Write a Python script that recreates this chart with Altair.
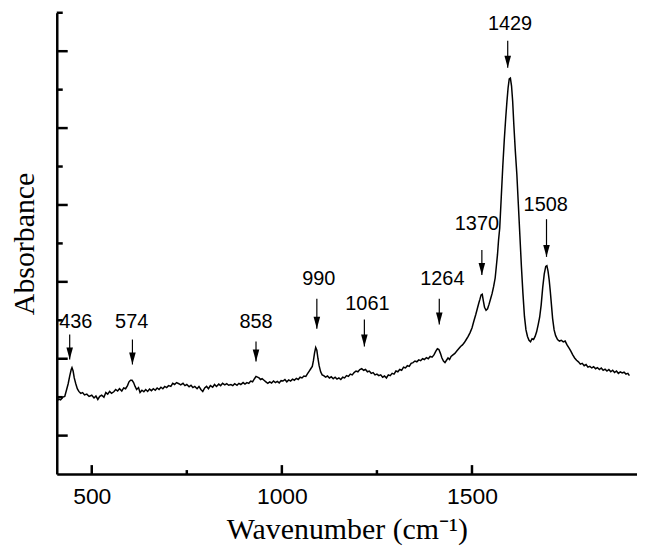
import altair as alt
import pandas as pd

wavenumber = [
    408, 413, 418, 424, 429, 434, 438, 442, 446, 448,
    451, 454, 458, 462, 466, 471, 476, 481, 487, 493,
    500, 506, 511, 516, 521, 526, 532, 537, 542, 547,
    552, 558, 563, 568, 573, 579, 584, 589, 594, 598,
    602, 606, 610, 614, 618, 623, 627, 632, 637, 642,
    647, 652, 657, 662, 667, 672, 677, 682, 687, 692,
    697, 702, 708, 713, 718, 723, 729, 734, 740, 745,
    750, 756, 761, 766, 771, 777, 782, 787, 792, 797,
    802, 807, 812, 818, 823, 828, 834, 839, 844, 850,
    855, 860, 866, 871, 876, 882, 887, 892, 898, 903,
    908, 913, 918, 923, 928, 932, 936, 940, 944, 948,
    953, 958, 963, 968, 973, 978, 983, 988, 993, 998,
    1003, 1008, 1013, 1018, 1023, 1028, 1033, 1038, 1043, 1048,
    1053, 1058, 1063, 1068, 1072, 1076, 1080, 1083, 1086, 1089,
    1092, 1095, 1098, 1102, 1106, 1110, 1115, 1120, 1125, 1130,
    1135, 1140, 1145, 1150, 1155, 1160, 1165, 1170, 1175, 1180,
    1185, 1190, 1195, 1200, 1205, 1210, 1215, 1220, 1225, 1230,
    1235, 1240, 1245, 1250, 1255, 1260, 1265, 1270, 1275, 1280,
    1285, 1290, 1295, 1300, 1305, 1310, 1315, 1320, 1325, 1330,
    1335, 1340, 1345, 1350, 1355, 1360, 1365, 1370, 1375, 1380,
    1385, 1390, 1395, 1400, 1405, 1409, 1413, 1417, 1421, 1425,
    1429, 1433, 1437, 1441, 1445, 1450, 1455, 1460, 1465, 1470,
    1475, 1480, 1485, 1490, 1495, 1500, 1505, 1510, 1514, 1518,
    1521, 1524, 1527, 1530, 1533, 1537, 1541, 1545, 1549, 1553,
    1557, 1561, 1564, 1567, 1570, 1573, 1577, 1581, 1585, 1589,
    1592, 1595, 1598, 1601, 1604, 1607, 1610, 1614, 1618, 1622,
    1626, 1630, 1634, 1638, 1642, 1646, 1650, 1654, 1658, 1662,
    1666, 1670, 1674, 1678, 1682, 1686, 1690, 1694, 1697, 1700,
    1703, 1706, 1709, 1712, 1716, 1720, 1725, 1730, 1735, 1740,
    1745, 1750, 1755, 1760, 1765, 1770, 1775, 1780, 1785, 1790,
    1795, 1800, 1805, 1810, 1815, 1820, 1825, 1830, 1835, 1840,
    1845, 1850, 1855, 1860, 1865, 1870, 1875, 1880, 1885, 1890,
    1895, 1900, 1905, 1910, 1914,
]

absorbance = [
    1.89, 1.95, 1.93, 2.00, 2.02, 2.20, 2.35, 2.55, 2.72, 2.77,
    2.68, 2.50, 2.35, 2.22, 2.15, 2.10, 2.12, 2.06, 2.08, 2.02,
    2.05, 1.98, 2.03, 1.94, 2.02, 2.05, 2.00, 2.12, 2.08, 2.15,
    2.10, 2.14, 2.20, 2.16, 2.22, 2.16, 2.24, 2.22, 2.30, 2.40,
    2.44, 2.44, 2.38, 2.28, 2.20, 2.25, 2.12, 2.18, 2.14, 2.20,
    2.15, 2.21, 2.17, 2.22, 2.18, 2.24, 2.20, 2.26, 2.22, 2.28,
    2.25, 2.30, 2.28, 2.36, 2.33, 2.38, 2.35, 2.32, 2.36, 2.30,
    2.33, 2.27, 2.31, 2.25, 2.28, 2.22, 2.28, 2.20, 2.15, 2.24,
    2.28, 2.22, 2.30, 2.26, 2.33, 2.28, 2.34, 2.30, 2.36, 2.32,
    2.35, 2.31, 2.33, 2.30, 2.35, 2.31, 2.36, 2.33, 2.38, 2.34,
    2.38, 2.36, 2.42, 2.40, 2.48, 2.54, 2.52, 2.50, 2.46, 2.48,
    2.44, 2.40, 2.36, 2.40, 2.37, 2.42, 2.38, 2.41, 2.37, 2.43,
    2.42, 2.46, 2.40, 2.45, 2.42, 2.47, 2.44, 2.49, 2.46, 2.52,
    2.50, 2.55, 2.54, 2.62, 2.68, 2.74, 2.80, 2.95, 3.15, 3.29,
    3.22, 3.00, 2.82, 2.66, 2.58, 2.56, 2.52, 2.55, 2.50, 2.53,
    2.48, 2.52, 2.47, 2.50, 2.46, 2.52, 2.50, 2.56, 2.54, 2.60,
    2.58, 2.64, 2.68, 2.66, 2.72, 2.74, 2.70, 2.72, 2.66, 2.68,
    2.62, 2.64, 2.58, 2.60, 2.56, 2.58, 2.52, 2.55, 2.50, 2.58,
    2.56, 2.62, 2.60, 2.68, 2.66, 2.72, 2.70, 2.78, 2.76, 2.82,
    2.80, 2.88, 2.90, 2.94, 2.92, 2.97, 2.95, 3.00, 2.98, 3.03,
    3.00, 3.06, 3.04, 3.10, 3.20, 3.26, 3.24, 3.14, 3.02, 2.94,
    2.90, 2.96, 3.02, 2.98, 3.06, 3.10, 3.14, 3.20, 3.26, 3.32,
    3.36, 3.42, 3.50, 3.58, 3.68, 3.80, 3.98, 4.15, 4.30, 4.45,
    4.55, 4.66, 4.68, 4.50, 4.34, 4.26, 4.30, 4.42, 4.56, 4.70,
    4.88, 5.10, 5.40, 5.70, 6.10, 6.40, 7.20, 8.00, 8.70, 9.30,
    9.70, 10.05, 10.28, 10.30, 10.10, 9.70, 9.10, 8.40, 7.80, 7.00,
    6.20, 5.40, 4.70, 4.10, 3.75, 3.58, 3.48, 3.44, 3.52, 3.50,
    3.58, 3.70, 3.88, 4.08, 4.40, 4.85, 5.20, 5.40, 5.42, 5.28,
    5.05, 4.75, 4.40, 4.05, 3.75, 3.60, 3.50, 3.46, 3.48, 3.44,
    3.46, 3.36, 3.28, 3.20, 3.10, 3.02, 2.96, 2.92, 2.86, 2.88,
    2.82, 2.85, 2.78, 2.80, 2.76, 2.79, 2.74, 2.77, 2.72, 2.76,
    2.70, 2.73, 2.68, 2.72, 2.66, 2.70, 2.64, 2.68, 2.62, 2.66,
    2.63, 2.65, 2.60, 2.62, 2.56,
]

peak_labels = ["436", "574", "858", "990", "1061", "1264", "1370", "1429", "1508"]
arrow_x = [442, 607, 932, 1092, 1217, 1414, 1526, 1594, 1696]
arrow_tail = [3.63, 3.50, 3.45, 4.56, 4.02, 4.56, 5.83, 11.27, 6.63]
arrow_tip = [2.98, 2.85, 2.93, 3.78, 3.32, 3.89, 5.18, 10.57, 5.65]
label_x = [458, 605, 932, 1097, 1225, 1422, 1513, 1600, 1694]
label_y = [3.96, 3.96, 3.96, 5.08, 4.43, 5.08, 6.50, 11.71, 6.99]

x_major = [500, 1000, 1500]
x_minor = [750, 1250]
y_major = [1, 3, 5, 7, 9, 11]
y_minor = [2, 4, 6, 8, 10, 12]

assert len(wavenumber) == len(absorbance)

W = 583
H = 463.5
X_DOMAIN = [408, 1934]
Y_DOMAIN = [0, 12]

spec_df = pd.DataFrame({"wn": wavenumber, "ab": absorbance})
ann_df = pd.DataFrame({
    "label": peak_labels, "ax": arrow_x, "tail": arrow_tail, "tip": arrow_tip,
    "lx": label_x, "ly": label_y,
})

xs = alt.Scale(domain=X_DOMAIN, nice=False, zero=False)
ys = alt.Scale(domain=Y_DOMAIN, nice=False, zero=False)

line = alt.Chart(spec_df).mark_line(color="black", strokeWidth=1.5, clip=True).encode(
    x=alt.X("wn:Q", scale=xs, axis=alt.Axis(
        title="Wavenumber (cm⁻¹)", values=x_major, format="d", ticks=False, grid=False,
        domain=True, domainColor="black", domainWidth=2.5,
        labelFont="Liberation Sans", labelFontSize=23, labelColor="black", labelPadding=12,
        titleFont="Liberation Serif", titleFontSize=30, titleFontWeight="normal",
        titleColor="black", titlePadding=6,
    )),
    y=alt.Y("ab:Q", scale=ys, axis=alt.Axis(
        title="Absorbance", labels=False, ticks=False, grid=False,
        domain=True, domainColor="black", domainWidth=2.5,
        titleFont="Liberation Serif", titleFontSize=30, titleFontWeight="normal",
        titleColor="black", titlePadding=17,
    )),
)

def xticks(vals, length):
    return alt.Chart(pd.DataFrame({"v": vals})).mark_rule(color="black", strokeWidth=2.5).encode(
        x="v:Q", y=alt.value(H), y2=alt.value(H - length))

def yticks(vals, length):
    return alt.Chart(pd.DataFrame({"v": vals})).mark_rule(color="black", strokeWidth=2.5).encode(
        y="v:Q", x=alt.value(0), x2=alt.value(length))

arrows = alt.Chart(ann_df).mark_rule(color="black", strokeWidth=1.2).encode(
    x="ax:Q", y="tail:Q", y2="tip:Q")

heads = alt.Chart(ann_df).mark_point(
    shape="M-0.55,-2L0.55,-2L0,0Z", size=144, filled=True, color="black", opacity=1
).encode(x="ax:Q", y="tip:Q")

labels = alt.Chart(ann_df).mark_text(
    font="Liberation Sans", fontSize=20, color="black", align="center", baseline="middle"
).encode(x="lx:Q", y="ly:Q", text="label:N")

chart = alt.layer(
    line, xticks(x_major, 9), xticks(x_minor, 4), yticks(y_major, 11), yticks(y_minor, 6),
    arrows, heads, labels,
).properties(
    width=W, height=H,
    padding={"left": 2, "top": 1.5, "right": 0, "bottom": 0},
).configure_view(stroke=None)

chart.save("out.html", embed_options={"renderer": "svg", "actions": False})
